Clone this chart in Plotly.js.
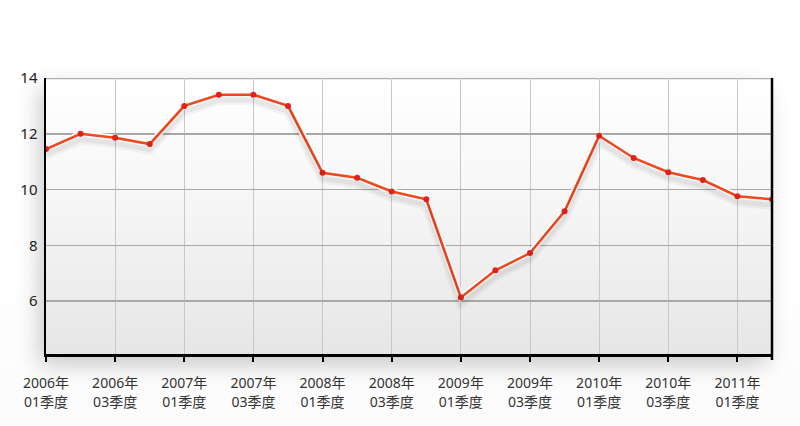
<!DOCTYPE html>
<html>
<head>
<meta charset="utf-8">
<script src="https://cdn.plot.ly/plotly-3.0.1.min.js"></script>
<style>
html,body{margin:0;padding:0;background:#fff;}
#wrap{position:relative;width:800px;height:426px;overflow:hidden;background:linear-gradient(to bottom,#ffffff 0%,#ffffff 60%,#fbfbfb 100%);}
#bgplot{position:absolute;left:46px;top:78px;width:726px;height:276px;
background:linear-gradient(to bottom,#ffffff 0%,#f6f6f6 45%,#e6e6e6 100%);
box-shadow:-6px 10px 22px rgba(0,0,0,0.22);}
#chart{position:absolute;left:0;top:0;width:800px;height:426px;}
</style>
</head>
<body>
<div id="wrap"><div id="bgplot"></div><div id="chart"></div></div>
<script>
const categories = [
 "2006年<br>01季度","2006年<br>02季度","2006年<br>03季度","2006年<br>04季度",
 "2007年<br>01季度","2007年<br>02季度","2007年<br>03季度","2007年<br>04季度",
 "2008年<br>01季度","2008年<br>02季度","2008年<br>03季度","2008年<br>04季度",
 "2009年<br>01季度","2009年<br>02季度","2009年<br>03季度","2009年<br>04季度",
 "2010年<br>01季度","2010年<br>02季度","2010年<br>03季度","2010年<br>04季度",
 "2011年<br>01季度","2011年<br>02季度"
];
const values = [11.45,12.0,11.86,11.63,13.0,13.4,13.4,13.0,10.6,10.42,9.93,9.65,
 6.13,7.1,7.72,9.22,11.93,11.13,10.62,10.34,9.76,9.65];
const tickLabels = categories.filter((c,i)=>i%2===0);
const yTicks = [6,8,10,12,14];

const font = 'Noto Sans, "Noto Sans CJK SC", sans-serif';
const shadowShift = 0.2;

const traces = [
 {x:categories,y:values,type:'scatter',mode:'lines',yaxis:'y2',
  line:{color:'rgba(0,0,0,0.04)',width:10},hoverinfo:'skip'},
 {x:categories,y:values,type:'scatter',mode:'lines',yaxis:'y2',
  line:{color:'rgba(0,0,0,0.05)',width:5},hoverinfo:'skip'},
 {x:categories,y:values,type:'scatter',mode:'lines',
  line:{color:'#ffffff',width:6},hoverinfo:'skip'},
 {x:categories,y:values,type:'scatter',mode:'lines+markers',
  line:{color:'#f2491f',width:2.5},
  marker:{color:'#e3241a',size:6}}
];

const layout = {
 width:800,height:426,
 margin:{l:46,r:28,t:78,b:72},
 paper_bgcolor:'rgba(0,0,0,0)',plot_bgcolor:'rgba(0,0,0,0)',
 showlegend:false,
 font:{family:font,color:'#222'},
 xaxis:{type:'category',range:[0,21],
  tickmode:'array',tickvals:tickLabels,ticktext:tickLabels,
  showgrid:true,gridcolor:'#c8c8c8',gridwidth:1,
  showline:true,linecolor:'#000',linewidth:2.5,mirror:false,
  ticks:'outside',ticklen:5,tickwidth:2,tickcolor:'#000',ticklabelstandoff:10,
  tickfont:{size:14,color:'#333',family:font},zeroline:false},
 yaxis:{range:[4.1,14],tickvals:yTicks,
  showgrid:true,gridcolor:'#a8a8a8',gridwidth:1.5,
  showline:true,linecolor:'#000',linewidth:2.5,mirror:false,
  ticks:'',ticklabelstandoff:3,
  tickfont:{size:15,color:'#222',family:font},zeroline:false},
 yaxis2:{overlaying:'y',range:[4.1+shadowShift,14+shadowShift],visible:false},
 shapes:[
  {type:'line',xref:'paper',yref:'paper',x0:1,x1:1,y0:-0.022,y1:1,line:{color:'#000',width:2.5},layer:'above'},
  {type:'line',xref:'paper',yref:'y',x0:0,x1:1,y0:14,y1:14,line:{color:'#b0b0b0',width:2.5},layer:'below'}
 ]
};
Plotly.newPlot('chart',traces,layout,{displayModeBar:false,staticPlot:true});
</script>
</body>
</html>
